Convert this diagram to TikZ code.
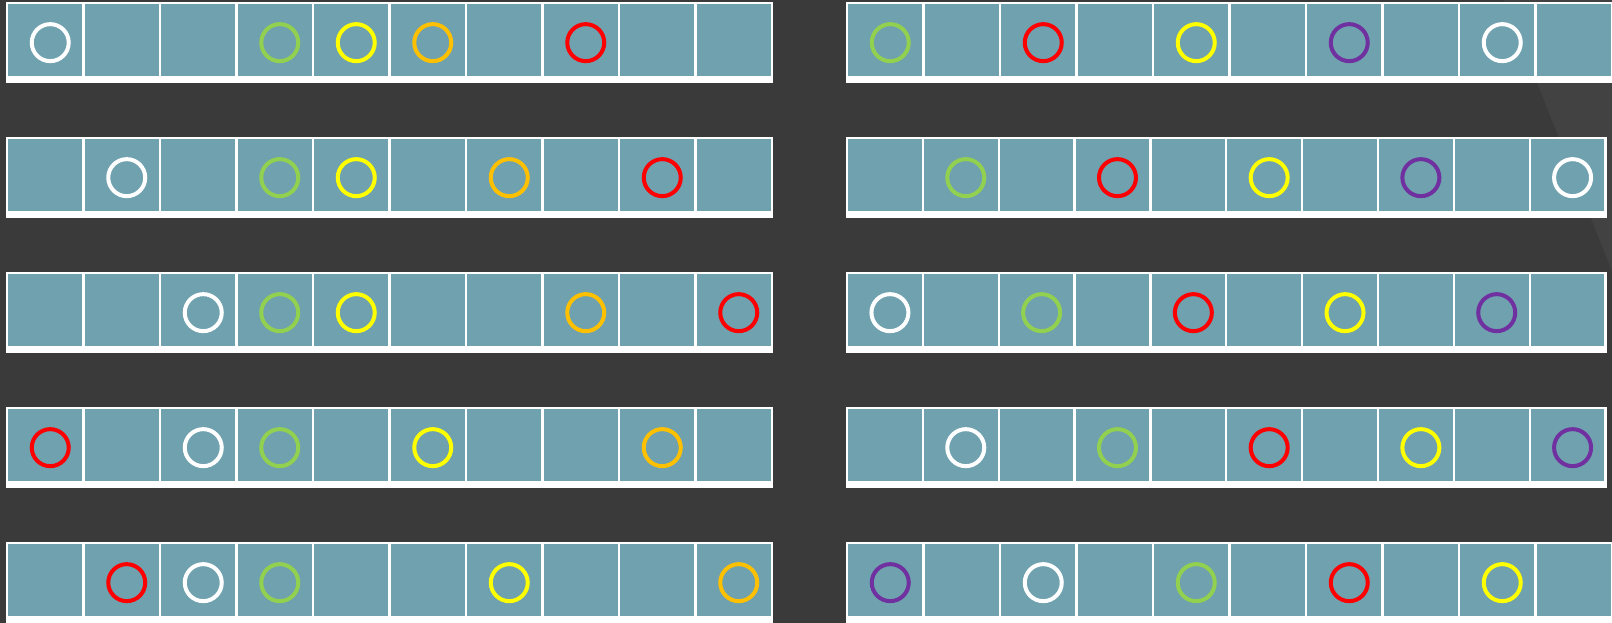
\documentclass[tikz,border=0pt]{standalone}
\usepackage{tikz}

\definecolor{bgdark}{RGB}{58,58,58}
\definecolor{bglight}{RGB}{66,66,66}
\definecolor{cellteal}{RGB}{111,161,175}
\definecolor{ogreen}{RGB}{146,208,80}
\definecolor{oyellow}{RGB}{255,255,0}
\definecolor{oorange}{RGB}{255,192,0}
\definecolor{ored}{RGB}{255,0,0}
\definecolor{opurple}{RGB}{112,48,160}

\tikzset{
  cell/.style={draw=white, line width=2.2pt, fill=cellteal, inner sep=0pt, outer sep=0pt,
    minimum width=#1, minimum height=74.3},
  ring/.style={draw=#1, circle, line width=4pt, inner sep=0pt, minimum size=37},
}

\begin{document}
\begin{tikzpicture}[x=1pt, y=-1pt]
\clip (0,0) rectangle (1612,623);
\fill[bgdark] (0,0) rectangle (1612,623);
\fill[bglight] (1504,0) -- (1612,0) -- (1612,271) -- cycle;

% rows of cells, left block and right block
\foreach \r/\rp in {1/76.5,2/75.85,3/75.85,4/75.85,5/76.5} {
  \pgfmathsetmacro\ytop{1.7+135*(\r-1)}
  \foreach \c in {1,...,10} {
    \node[cell=76.5] (L\r c\c) at ({7+76.5*(\c-0.5)}, {\ytop+38.25}) {};
    \node[cell=\rp] (R\r c\c) at ({847+\rp*(\c-0.5)}, {\ytop+38.25}) {};
  }
  \fill[white] (5.9,{\ytop+74.3}) rectangle (773.1,{\ytop+81.6});
  \fill[white] (845.9,{\ytop+74.3}) rectangle ({848.1+10*\rp},{\ytop+81.6});
}

% circles, left block
\foreach \c/\col in {1/white,4/ogreen,5/oyellow,6/oorange,8/ored}
  \node[ring=\col] (L1o\c) at ([shift={(5,2.7)}]L1c\c.center) {};
\foreach \c/\col in {2/white,4/ogreen,5/oyellow,7/oorange,9/ored}
  \node[ring=\col] (L2o\c) at ([shift={(5,2.7)}]L2c\c.center) {};
\foreach \c/\col in {3/white,4/ogreen,5/oyellow,8/oorange,10/ored}
  \node[ring=\col] (L3o\c) at ([shift={(5,2.7)}]L3c\c.center) {};
\foreach \c/\col in {1/ored,3/white,4/ogreen,6/oyellow,9/oorange}
  \node[ring=\col] (L4o\c) at ([shift={(5,2.7)}]L4c\c.center) {};
\foreach \c/\col in {2/ored,3/white,4/ogreen,7/oyellow,10/oorange}
  \node[ring=\col] (L5o\c) at ([shift={(5,2.7)}]L5c\c.center) {};

% circles, right block
\foreach \c/\col in {1/ogreen,3/ored,5/oyellow,7/opurple,9/white}
  \node[ring=\col] (R1o\c) at ([shift={(5,2.7)}]R1c\c.center) {};
\foreach \c/\col in {2/ogreen,4/ored,6/oyellow,8/opurple,10/white}
  \node[ring=\col] (R2o\c) at ([shift={(5,2.7)}]R2c\c.center) {};
\foreach \c/\col in {1/white,3/ogreen,5/ored,7/oyellow,9/opurple}
  \node[ring=\col] (R3o\c) at ([shift={(5,2.7)}]R3c\c.center) {};
\foreach \c/\col in {2/white,4/ogreen,6/ored,8/oyellow,10/opurple}
  \node[ring=\col] (R4o\c) at ([shift={(5,2.7)}]R4c\c.center) {};
\foreach \c/\col in {1/opurple,3/white,5/ogreen,7/ored,9/oyellow}
  \node[ring=\col] (R5o\c) at ([shift={(5,2.7)}]R5c\c.center) {};
\end{tikzpicture}
\end{document}
